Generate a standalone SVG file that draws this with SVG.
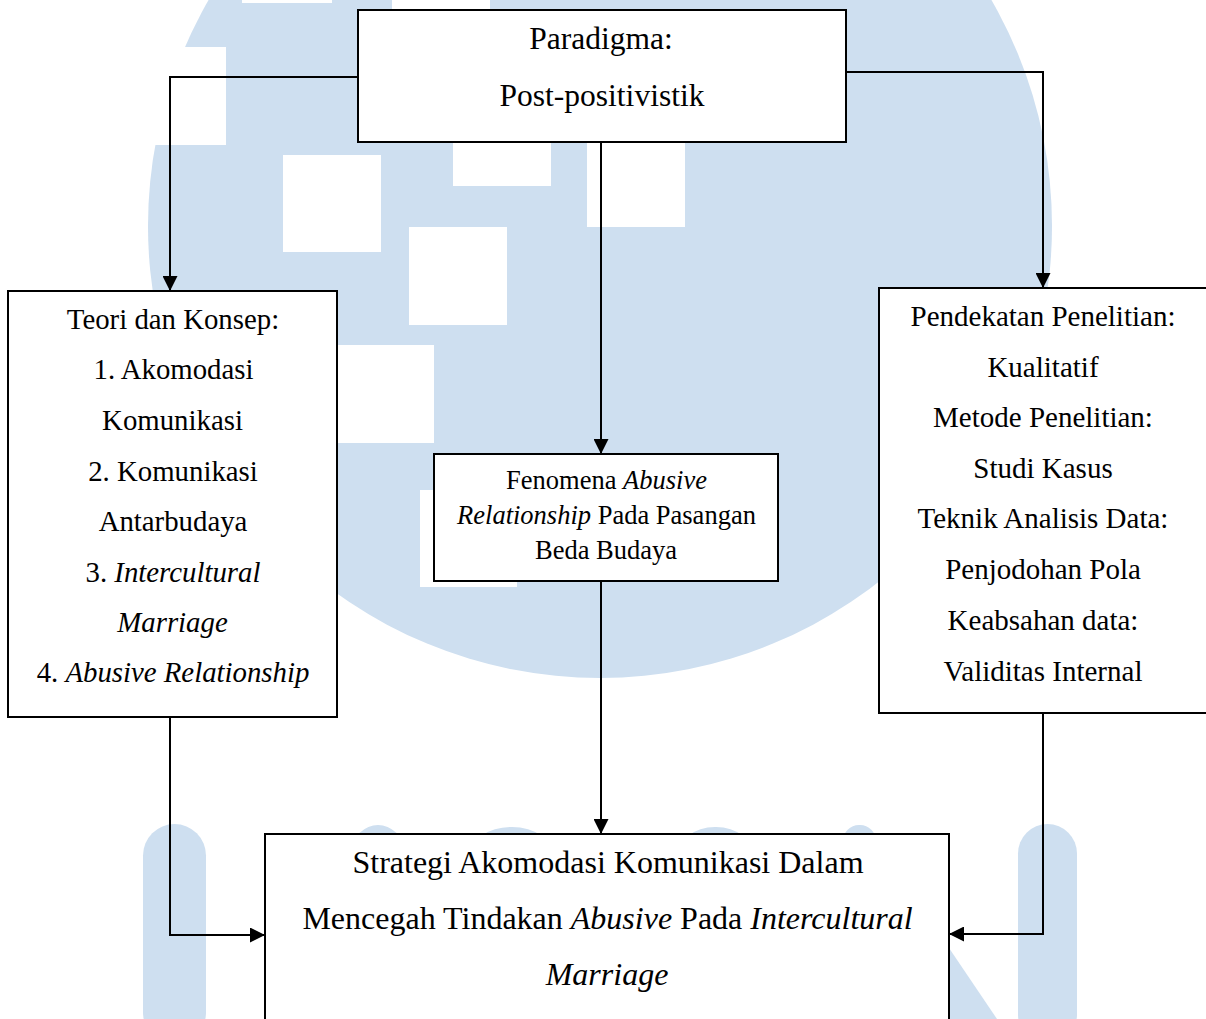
<svg xmlns="http://www.w3.org/2000/svg" width="1206" height="1019" viewBox="0 0 1206 1019">
<style>
.wm{fill:#cedff0}
.wh{fill:#ffffff}
.box{fill:#ffffff;stroke:#000000;stroke-width:2}
.t{font-family:"Liberation Serif","Times New Roman",serif;fill:#000000;text-anchor:middle}
.i{font-style:italic}
.conn{fill:none;stroke:#000000;stroke-width:2;marker-end:url(#arr)}
</style>
<defs>
<marker id="arr" markerUnits="userSpaceOnUse" markerWidth="15" markerHeight="15" viewBox="0 0 15 15" refX="15" refY="7.5" orient="auto">
<path d="M0,0 L15,7.5 L0,15 Z" fill="#000000"/>
</marker>
</defs>
<rect width="1206" height="1019" fill="#ffffff"/>
<g id="watermark">
<circle class="wm" cx="600" cy="226" r="452"/>
<rect class="wh" x="242" y="0" width="90" height="3"/>
<rect class="wh" x="392" y="0" width="98" height="9"/>
<rect class="wh" x="140" y="47" width="86" height="98"/>
<rect class="wh" x="283" y="155" width="98" height="97"/>
<rect class="wh" x="453" y="143" width="98" height="43"/>
<rect class="wh" x="587" y="143" width="98" height="84"/>
<rect class="wh" x="409" y="227" width="98" height="98"/>
<rect class="wh" x="338" y="345" width="96" height="98"/>
<rect class="wh" x="420" y="490" width="97" height="97"/>
<rect class="wm" x="143" y="824" width="63" height="220" rx="31.5" ry="31.5"/>
<rect class="wm" x="353" y="825" width="50" height="200" rx="25" ry="25"/>
<rect class="wm" x="469" y="827" width="85" height="200" rx="42" ry="30"/>
<rect class="wm" x="677" y="827" width="77" height="200" rx="38" ry="30"/>
<rect class="wm" x="843" y="825" width="33" height="200" rx="16" ry="16"/>
<rect class="wm" x="1018" y="824" width="59" height="220" rx="29.5" ry="29.5"/>
<polygon class="wm" points="872,834 997,1019 800,1019 800,834"/>
</g>
<g id="connectors">
<path class="conn" d="M358,77 H170 V291"/>
<path class="conn" d="M846,72 H1043 V288"/>
<path class="conn" d="M601,142 V454"/>
<path class="conn" d="M601,581 V834"/>
<path class="conn" d="M170,717 V935 H265"/>
<path class="conn" d="M1043,713 V934 H949"/>
</g>
<g id="paradigma">
<rect class="box" x="358" y="10" width="488" height="132"/>
<text class="t" x="601" y="49" font-size="31.5">Paradigma:</text>
<text class="t" x="602" y="106" font-size="31.5">Post-positivistik</text>
</g>
<g id="teori" font-size="28.8">
<rect class="box" x="8" y="291" width="329" height="426"/>
<text class="t" x="173" y="328.5">Teori dan Konsep:</text>
<text class="t" x="173.5" y="379.3">1. Akomodasi</text>
<text class="t" x="172.5" y="430">Komunikasi</text>
<text class="t" x="173" y="480.5">2. Komunikasi</text>
<text class="t" x="173" y="531">Antarbudaya</text>
<text class="t" x="173" y="581.7">3. <tspan class="i">Intercultural</tspan></text>
<text class="t i" x="172.5" y="632">Marriage</text>
<text class="t" x="173" y="682">4. <tspan class="i">Abusive Relationship</tspan></text>
</g>
<g id="pendekatan" font-size="29">
<rect class="box" x="879" y="288" width="330" height="425"/>
<text class="t" x="1043" y="326">Pendekatan Penelitian:</text>
<text class="t" x="1043" y="376.5">Kualitatif</text>
<text class="t" x="1043" y="427">Metode Penelitian:</text>
<text class="t" x="1043" y="477.5">Studi Kasus</text>
<text class="t" x="1043" y="528">Teknik Analisis Data:</text>
<text class="t" x="1043" y="578.5">Penjodohan Pola</text>
<text class="t" x="1043" y="629.5">Keabsahan data:</text>
<text class="t" x="1043" y="680.5">Validitas Internal</text>
</g>
<g id="fenomena" font-size="26.5">
<rect class="box" x="434" y="454" width="344" height="127"/>
<text class="t" x="606.5" y="489">Fenomena <tspan class="i">Abusive</tspan></text>
<text class="t" x="606.5" y="523.5"><tspan class="i">Relationship</tspan> Pada Pasangan</text>
<text class="t" x="606" y="558.5">Beda Budaya</text>
</g>
<g id="strategi" font-size="32">
<rect class="box" x="265" y="834" width="684" height="200"/>
<text class="t" x="608" y="873">Strategi Akomodasi Komunikasi Dalam</text>
<text class="t" x="607.5" y="929">Mencegah Tindakan <tspan class="i">Abusive</tspan> Pada <tspan class="i">Intercultural</tspan></text>
<text class="t i" x="607" y="985">Marriage</text>
</g>
</svg>
